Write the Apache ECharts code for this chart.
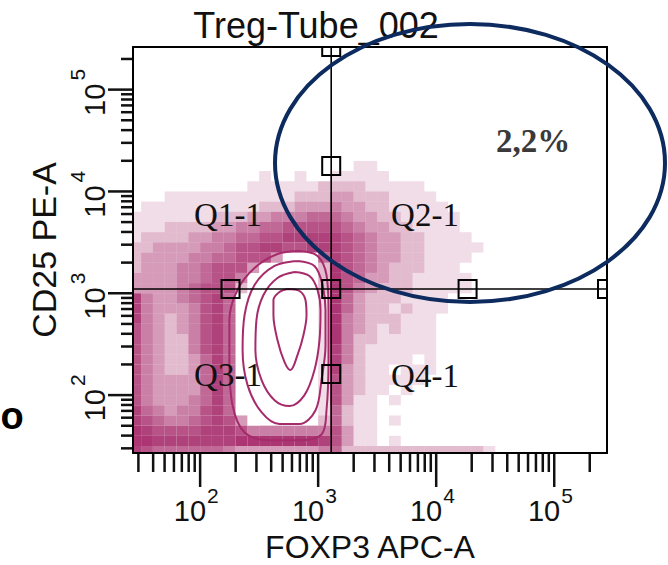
<!DOCTYPE html>
<html><head><meta charset="utf-8">
<script src="https://cdn.jsdelivr.net/npm/echarts@6/dist/echarts.min.js"></script>
<style>html,body{margin:0;padding:0;background:#fff}#c{width:668px;height:565px}</style>
</head><body><div id="c"></div>
<script>
// ---------- data ----------
const xRange = [27, 280000];          // FOXP3 APC-A axis extent
const yRange = [27, 262144];          // CD25 PE-A axis extent
const xMajorTicks = [100, 1000, 10000, 100000];
const yMajorTicks = [100, 1000, 10000, 100000];
const tickExponents = ['2', '3', '4', '5'];
const xMinorTicks = [30,40,50,60,70,80,90,200,300,400,500,600,700,800,900,2000,3000,4000,5000,6000,7000,8000,9000,20000,30000,40000,50000,60000,70000,80000,90000,200000];
const yMinorTicks = [30,40,50,60,70,80,90,200,300,400,500,600,700,800,900,2000,3000,4000,5000,6000,7000,8000,9000,20000,30000,40000,50000,60000,70000,80000,90000,200000];

const gateX = 1290;   // quadrant gate, FOXP3
const gateY = 1100;   // quadrant gate, CD25
const gateHandles = [[1290, 262144], [1290, 17800], [181, 1100], [1290, 1100], [18450, 1100], [280000, 1100], [1290, 161]];

const quadrantLabels = ['Q1-1', 'Q2-1', 'Q3-1', 'Q4-1'];
const q2Percent = '2,2%';
const chartTitle = 'Treg-Tube_002';
const xName = 'FOXP3 APC-A';
const yName = 'CD25 PE-A';

// density of events: bins of 0.1 decade, starting at 10^1.4 on both axes
// rows listed from the top (CD25 10^4.2-4.3) down to the bottom (10^1.4-1.5); 0..9 = share of filled pixels
const binLog10Start = 1.4;
const binLog10Step = 0.1;
const densityRows = [
  "00000000000000000001100000000000",
  "00000000000100100111110000000000",
  "00000000001111112222111110000000",
  "00011111111111222332221111000000",
  "01111111111222333433221111100000",
  "11111112223344455543322111110000",
  "11122223344556666654332211110000",
  "12222334455667777765433221111000",
  "22333344566776677765433221111100",
  "23333445566630005765433221111000",
  "23334456663000002865432221110000",
  "33334456640000002865332211111000",
  "33334566620000002864322211111000",
  "74334567500000001853222111100000",
  "74333467500000001853221211100000",
  "74323467500000001843222111000000",
  "64323467500000001843212111000000",
  "64322467500000001842211111000000",
  "64322467500000001742111111000000",
  "64322357500000001742111101000000",
  "64322357500000001732110111000000",
  "64333357500000001632111110000000",
  "64333357500000001632110100000000",
  "64333457500000001631101000000000",
  "75434467500000001521100000000000",
  "76544567630000002521101000000000",
  "87666677764444444631100000000000",
  "88777777788888887631101000000000",
  "76555555433333334522222222222210"
];

// contour lines of the main population [FOXP3, CD25]
const contourA = [[550,1102],[695,1053],[781,859],[797,612],[751,389],[669,248],[583,176],[519,211],[452,348],[418,612],[418,859],[470,1029],[550,1102]];
const contourB = [[630,1618],[845,1478],[988,1077],[1047,685],[1027,348],[931,176],[766,100],[572,78],[427,89],[331,141],[294,277],[300,546],[344,962],[452,1413],[630,1618]];
const contourC = [[669,2076],[931,1853],[1089,1206],[1154,685],[1154,310],[1068,141],[950,71],[695,52],[470,52],[331,68],[252,126],[229,277],[238,612],[289,1206],[427,1853],[669,2076]];
const contourD = [[695,2603],[988,2324],[1177,1512],[1224,685],[1224,221],[1177,71],[1068,41],[695,36],[387,36],[238,43],[188,80],[177,221],[177,546],[207,1077],[289,1772],[452,2431],[695,2603]];

// ---------- styles ----------
const fontSans = '"Liberation Sans", Arial, sans-serif';
const fontSerif = '"Liberation Serif", "Times New Roman", serif';
const dotColor = '#a62b6b';
const ink = '#111111';
const densityOpacity = [0, 0.16, 0.32, 0.47, 0.6, 0.71, 0.81, 0.89, 0.95, 1];

// ---------- build ----------
const cellData = [];
densityRows.forEach((row, i) => {
  const r = densityRows.length - 1 - i;
  for (let c = 0; c < row.length; c++) {
    const d = Number(row[c]);
    if (!d) continue;
    cellData.push([
      Math.pow(10, binLog10Start + c * binLog10Step),
      Math.pow(10, binLog10Start + r * binLog10Step),
      Math.pow(10, binLog10Start + (c + 1) * binLog10Step),
      Math.pow(10, binLog10Start + (r + 1) * binLog10Step),
      d
    ]);
  }
});

function txt(extra) {
  return Object.assign({fill: ink, fontFamily: fontSans, fontWeight: 'normal'}, extra);
}

function contourSeries(pts) {
  return {type: 'line', data: pts, smooth: 0.35, symbol: 'none', z: 4, silent: true,
    lineStyle: {color: dotColor, width: 2}, clip: true};
}

function tickSeries(values, axis, len) {
  return {
    type: 'custom', clip: false, silent: true, z: 10,
    encode: {x: 0, y: 1},
    data: values.map(v => axis === 'x' ? [v, yRange[0]] : [xRange[0], v]),
    renderItem: (params, api) => {
      const p = api.coord([api.value(0), api.value(1)]);
      const shape = axis === 'x'
        ? {x1: p[0], y1: p[1], x2: p[0], y2: p[1] + len}
        : {x1: p[0] - len, y1: p[1], x2: p[0], y2: p[1]};
      return {type: 'line', shape: shape, style: {stroke: ink, lineWidth: 2.5}};
    }
  };
}

function axisLabelSeries(values, axis) {
  return {
    type: 'custom', clip: false, silent: true, z: 10,
    encode: {x: 0, y: 1},
    data: values.map(v => axis === 'x' ? [v, yRange[0]] : [xRange[0], v]),
    renderItem: (params, api) => {
      const p = api.coord([api.value(0), api.value(1)]);
      const exp = tickExponents[params.dataIndex];
      const base = txt({text: '10', fontSize: 29, align: 'right', textAlign: 'right', verticalAlign: 'middle', textVerticalAlign: 'middle'});
      const sup = txt({text: exp, fontSize: 21, align: 'left', textAlign: 'left', verticalAlign: 'middle', textVerticalAlign: 'middle'});
      if (axis === 'x') {
        return {type: 'group', children: [
          {type: 'text', x: p[0] + 6, y: p[1] + 58, style: base},
          {type: 'text', x: p[0] + 7, y: p[1] + 42, style: sup}
        ]};
      }
      return {type: 'group', x: p[0] - 28, y: p[1], rotation: Math.PI / 2, children: [
        {type: 'text', x: 6, y: -10, style: base},
        {type: 'text', x: 9, y: -28, style: sup}
      ]};
    }
  };
}

const axisCommon = {
  type: 'log', logBase: 10,
  axisLine: {show: true, onZero: false, lineStyle: {color: '#000', width: 2}},
  axisTick: {show: false}, axisLabel: {show: false}, splitLine: {show: false},
  z: 10
};

const option = {
  backgroundColor: '#ffffff',
  animation: false,
  grid: {left: 133, right: 61, top: 47, bottom: 112, containLabel: false},
  xAxis: [
    Object.assign({}, axisCommon, {min: xRange[0], max: xRange[1], position: 'bottom'}),
    Object.assign({}, axisCommon, {min: xRange[0], max: xRange[1], position: 'top'})
  ],
  yAxis: [
    Object.assign({}, axisCommon, {min: yRange[0], max: yRange[1], position: 'left'}),
    Object.assign({}, axisCommon, {min: yRange[0], max: yRange[1], position: 'right'})
  ],
  series: [
    {
      type: 'custom', clip: true, silent: true, z: 2,
      encode: {x: [0, 2], y: [1, 3]},
      data: cellData,
      renderItem: (params, api) => {
        const p0 = api.coord([api.value(0), api.value(3)]);
        const p1 = api.coord([api.value(2), api.value(1)]);
        return {type: 'rect',
          shape: {x: p0[0], y: p0[1], width: p1[0] - p0[0], height: p1[1] - p0[1]},
          style: {fill: dotColor, opacity: densityOpacity[api.value(4)]}};
      }
    },
    contourSeries(contourA),
    contourSeries(contourB),
    contourSeries(contourC),
    contourSeries(contourD),
    {type: 'line', data: [[gateX, yRange[0]], [gateX, yRange[1]]], symbol: 'none', z: 6, silent: true,
      lineStyle: {color: '#000', width: 1.6}},
    {type: 'line', data: [[xRange[0], gateY], [xRange[1], gateY]], symbol: 'none', z: 6, silent: true,
      lineStyle: {color: '#000', width: 1.6}},
    {
      type: 'custom', clip: true, silent: true, z: 7,
      encode: {x: 0, y: 1},
      data: gateHandles,
      renderItem: (params, api) => {
        const p = api.coord([api.value(0), api.value(1)]);
        return {type: 'rect', shape: {x: p[0] - 9, y: p[1] - 9, width: 18, height: 18},
          style: {fill: 'none', stroke: '#000', lineWidth: 2}};
      }
    },
    tickSeries(xMinorTicks, 'x', 19),
    tickSeries(xMajorTicks, 'x', 34),
    tickSeries(yMinorTicks, 'y', 12),
    tickSeries(yMajorTicks, 'y', 25),
    axisLabelSeries(xMajorTicks, 'x'),
    axisLabelSeries(yMajorTicks, 'y')
  ],
  graphic: [
    {type: 'text', x: 316, y: 25, z: 50,
      style: txt({text: chartTitle, fontSize: 36, align: 'center', textAlign: 'center', verticalAlign: 'middle', textVerticalAlign: 'middle'})},
    {type: 'text', x: 370, y: 547, z: 50,
      style: txt({text: xName, fontSize: 32, align: 'center', textAlign: 'center', verticalAlign: 'middle', textVerticalAlign: 'middle'})},
    {type: 'text', x: 44, y: 250, rotation: Math.PI / 2, z: 50,
      style: txt({text: yName, fontSize: 34, align: 'center', textAlign: 'center', verticalAlign: 'middle', textVerticalAlign: 'middle'})},
    {type: 'text', x: 228, y: 215, z: 50,
      style: txt({text: quadrantLabels[0], fontFamily: fontSerif, fontSize: 33, align: 'center', textAlign: 'center', verticalAlign: 'middle', textVerticalAlign: 'middle'})},
    {type: 'text', x: 425, y: 215, z: 50,
      style: txt({text: quadrantLabels[1], fontFamily: fontSerif, fontSize: 33, align: 'center', textAlign: 'center', verticalAlign: 'middle', textVerticalAlign: 'middle'})},
    {type: 'text', x: 228, y: 375, z: 50,
      style: txt({text: quadrantLabels[2], fontFamily: fontSerif, fontSize: 33, align: 'center', textAlign: 'center', verticalAlign: 'middle', textVerticalAlign: 'middle'})},
    {type: 'text', x: 425, y: 376, z: 50,
      style: txt({text: quadrantLabels[3], fontFamily: fontSerif, fontSize: 33, align: 'center', textAlign: 'center', verticalAlign: 'middle', textVerticalAlign: 'middle'})},
    {type: 'ellipse', z: 60, silent: true,
      shape: {cx: 470, cy: 163, rx: 195, ry: 139},
      style: {fill: 'none', stroke: '#0d2b5e', lineWidth: 4}},
    {type: 'text', x: 533, y: 141, z: 70,
      style: {text: q2Percent, fill: '#3a3a3a', fontFamily: fontSerif, fontWeight: 'bold', fontSize: 33,
        align: 'center', textAlign: 'center', verticalAlign: 'middle', textVerticalAlign: 'middle'}},
    {type: 'text', x: 12, y: 416, z: 70,
      style: {text: 'o', fill: '#000', fontFamily: fontSans, fontWeight: 'bold', fontSize: 38,
        align: 'center', textAlign: 'center', verticalAlign: 'middle', textVerticalAlign: 'middle'}}
  ]
};

const chart = echarts.init(document.getElementById('c'), null, {renderer: 'svg', width: 668, height: 565});
chart.setOption(option);
</script>
</body></html>
